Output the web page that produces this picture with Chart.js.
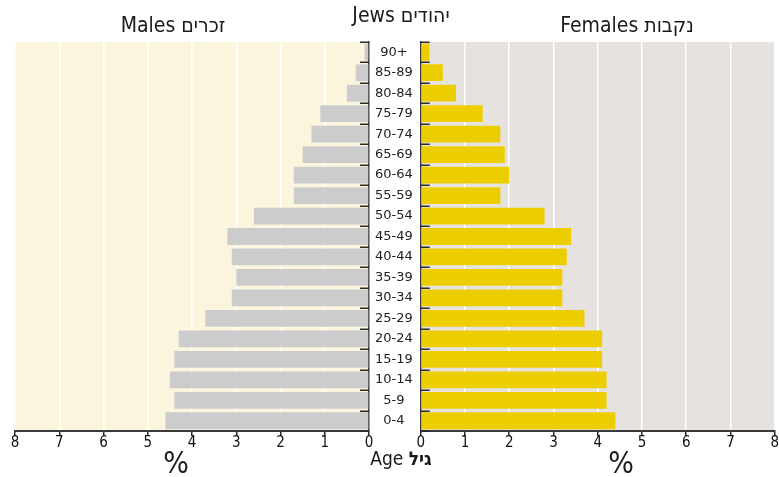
<!DOCTYPE html>
<html><head><meta charset="utf-8">
<script src="https://cdn.jsdelivr.net/npm/chart.js@4.4.1/dist/chart.umd.min.js"></script>
<style>
html,body{margin:0;padding:0;background:#fff;}
#wrap{position:relative;width:779px;height:477px;overflow:hidden;font-family:'Liberation Sans Narrow','DejaVu Sans Condensed',sans-serif;color:#1a1a1a;}
#cl{position:absolute;left:0;top:0;}
#cr{position:absolute;left:395px;top:0;}
.t{position:absolute;white-space:nowrap;transform:translateX(-50%);line-height:1;}
</style></head><body>
<div id="wrap">
<canvas id="cl" width="421" height="477"></canvas>
<canvas id="cr" width="384" height="477"></canvas>
<div class="t" style="left:173px;top:15px;font-size:21px;">Males זכרים</div>
<div class="t" style="left:401px;top:5px;font-size:21px;">Jews יהודים</div>
<div class="t" style="left:627px;top:15px;font-size:21px;">Females נקבות</div>
<div class="t" style="left:176px;top:448px;font-size:30px;">%</div>
<div class="t" style="left:401px;top:449px;font-size:19px;">Age <b>גיל</b></div>
<div class="t" style="left:621px;top:448px;font-size:30px;">%</div>
</div>
<script>
const ageGroups = ['90+','85-89','80-84','75-79','70-74','65-69','60-64','55-59','50-54','45-49','40-44','35-39','30-34','25-29','20-24','15-19','10-14','5-9','0-4'];
const malesPct = [0.1,0.3,0.5,1.1,1.3,1.5,1.7,1.7,2.6,3.2,3.1,3.0,3.1,3.7,4.3,4.4,4.5,4.4,4.6];
const femalesPct = [0.2,0.5,0.8,1.4,1.8,1.9,2.0,1.8,2.8,3.4,3.3,3.2,3.2,3.7,4.1,4.1,4.2,4.2,4.4];
const xTicks = [0,1,2,3,4,5,6,7,8];

const narrow = "'Liberation Sans Narrow','DejaVu Sans Condensed',sans-serif";

function areaBg(color){
  return {
    id:'areaBg',
    beforeDraw(chart){
      const a = chart.chartArea, c = chart.ctx;
      c.save(); c.fillStyle = color; c.fillRect(a.left, a.top, a.right-a.left, a.bottom-a.top); c.restore();
    }
  };
}
function boundaryTicks(dir){
  return {
    id:'boundaryTicks',
    afterDatasetsDraw(chart){
      const y = chart.scales.y, c = chart.ctx;
      const x0 = dir < 0 ? chart.chartArea.right : chart.chartArea.left;
      c.save(); c.strokeStyle = '#2a2a2a'; c.lineWidth = 1.5;
      for (let i = 0; i <= ageGroups.length; i++) {
        const py = Math.round(y.getPixelForValue(i - 0.5)) + 0.25;
        c.beginPath(); c.moveTo(x0, py); c.lineTo(x0 + dir*9, py); c.stroke();
      }
      c.restore();
    }
  };
}

function xScale(reverse){
  return {
    type:'linear', position:'bottom', min:0, max:8, reverse:reverse,
    afterBuildTicks(s){ s.ticks = xTicks.map(v => ({value:v})); },
    afterFit(s){ s.height = 20; },
    grid:{ color:'#ffffff', lineWidth:1.5, tickColor:'#2a2a2a', tickLength:5, tickWidth:1.5 },
    border:{ color:'#3a3a3a', width:2 },
    ticks:{ padding:0, color:'#111', font:{ family:narrow, size:15, lineHeight:1 }, maxRotation:0, autoSkip:false }
  };
}

new Chart(document.getElementById('cl'), {
  type:'bar',
  data:{ labels: ageGroups, datasets:[{ data: malesPct, backgroundColor:'#cccccc', borderWidth:0, barPercentage:0.82, categoryPercentage:1 }] },
  options:{
    indexAxis:'y', responsive:false, animation:false,
    layout:{ padding:{ left:15, top:42, bottom:26, right:0 } },
    plugins:{ legend:{display:false}, tooltip:{enabled:false} },
    scales:{
      x: xScale(true),
      y:{ position:'right', z:1,
          afterFit(s){ s.width = 52; },
          grid:{ display:false },
          border:{ color:'#3a3a3a', width:1.5 },
          ticks:{ crossAlign:'center', padding:-2, color:'#222', font:{ family:"'DejaVu Sans',sans-serif", size:13 } } }
    }
  },
  plugins:[areaBg('#fbf5de'), boundaryTicks(-1)]
});

new Chart(document.getElementById('cr'), {
  type:'bar',
  data:{ labels: ageGroups, datasets:[{ data: femalesPct, backgroundColor:'#ecce00', borderWidth:0, barPercentage:0.82, categoryPercentage:1 }] },
  options:{
    indexAxis:'y', responsive:false, animation:false,
    layout:{ padding:{ left:0, top:42, bottom:26, right:4.3 } },
    plugins:{ legend:{display:false}, tooltip:{enabled:false} },
    scales:{
      x: xScale(false),
      y:{ position:'left', z:1,
          afterFit(s){ s.width = 25.7; },
          grid:{ display:false },
          border:{ color:'#3a3a3a', width:1.5 },
          ticks:{ display:false } }
    }
  },
  plugins:[areaBg('#e6e2df'), boundaryTicks(1)]
});
</script>
</body></html>
